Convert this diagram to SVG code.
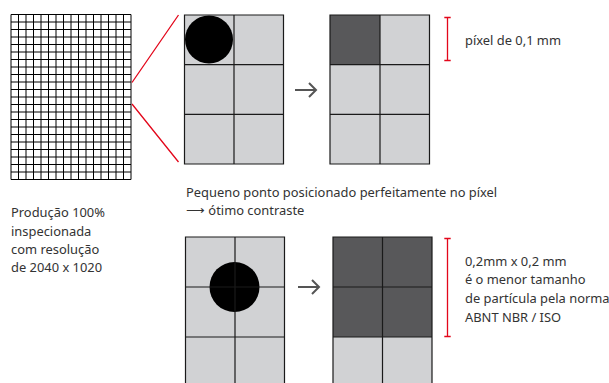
<svg xmlns="http://www.w3.org/2000/svg" width="609" height="383" viewBox="0 0 609 383">
<style>
.t{font-family:"Noto Sans","Open Sans",sans-serif;font-size:12.9px;fill:#333}
.cell{fill:#d1d2d4}
.dark{fill:#58585a}
.gl{stroke:#1a1a1a;stroke-width:1.2;fill:none}
.red{stroke:#e3061a;stroke-width:1.3;fill:none}
.arr{stroke:#555;stroke-width:2;fill:none}
</style>
<rect width="609" height="383" fill="#fff"/>
<g id="sensor-grid">
<path stroke="#000" stroke-width="1" fill="none" d="M11 14.5V179.5M18.5 14.5V179.5M26 14.5V179.5M33.5 14.5V179.5M41 14.5V179.5M48.5 14.5V179.5M56 14.5V179.5M63.5 14.5V179.5M71 14.5V179.5M78.5 14.5V179.5M86 14.5V179.5M93.5 14.5V179.5M101 14.5V179.5M108.5 14.5V179.5M116 14.5V179.5M123.5 14.5V179.5M131 14.5V179.5M11 14.5H131M11 22H131M11 29.5H131M11 37H131M11 44.5H131M11 52H131M11 59.5H131M11 67H131M11 74.5H131M11 82H131M11 89.5H131M11 97H131M11 104.5H131M11 112H131M11 119.5H131M11 127H131M11 134.5H131M11 142H131M11 149.5H131M11 157H131M11 164.5H131M11 172H131M11 179.5H131"/>
</g>
<g id="connectors">
<path class="red" d="M132 82.5L178.5 15M132 104L178.5 162"/>
<path class="arr" d="M295 90H316M309 83L316 90L309 97"/>
<path class="arr" d="M298 287H319M312 280L319 287L312 294"/>
</g>
<g id="block-top-in">
<rect class="cell" x="184.5" y="15" width="99" height="149"/>
<circle cx="209" cy="39.5" r="24" fill="#000"/>
<path class="gl" d="M184.5 15H283.5V164H184.5ZM234 15V164M184.5 64.7H283.5M184.5 114.3H283.5"/>
</g>
<g id="block-top-out">
<rect class="cell" x="330" y="15" width="99.5" height="149"/>
<rect class="dark" x="330" y="15" width="50" height="49.7"/>
<path class="gl" d="M330 15H429.5V164H330ZM380 15V164M330 64.7H429.5M330 114.3H429.5"/>
</g>
<g id="label-pixel">
<path class="red" d="M447.5 17.5V60.5M444.3 17.5H450.7M444.3 60.5H450.7"/>
<text class="t" x="465" y="44.5">píxel de 0,1 mm</text>
</g>
<g id="label-production">
<text class="t" x="11" y="216.5">Produção 100%</text>
<text class="t" x="11" y="235.5">inspecionada</text>
<text class="t" x="11" y="254">com resolução</text>
<text class="t" x="11" y="272">de 2040 x 1020</text>
</g>
<g id="label-middle">
<text class="t" x="186" y="197">Pequeno ponto posicionado perfeitamente no píxel</text>
<text class="t" x="186" y="215">⟶ ótimo contraste</text>
</g>
<g id="block-bottom-in">
<rect class="cell" x="185.5" y="237" width="99" height="150"/>
<circle cx="234.5" cy="287" r="25" fill="#000"/>
<path class="gl" d="M185.5 390V237H284.5V390M235 237V390M185.5 287H284.5M185.5 337H284.5"/>
</g>
<g id="block-bottom-out">
<rect class="cell" x="333" y="237" width="99" height="150"/>
<rect class="dark" x="333" y="237" width="99" height="100"/>
<path class="gl" d="M333 390V237H432V390M382.5 237V390M333 287H432M333 337H432"/>
</g>
<g id="label-particle">
<path class="red" d="M447.5 238.5V336.5M444.3 238.5H450.7M444.3 336.5H450.7"/>
<text class="t" x="465" y="266">0,2mm x 0,2 mm</text>
<text class="t" x="465" y="284">é o menor tamanho</text>
<text class="t" x="465" y="302.5">de partícula pela norma</text>
<text class="t" x="465" y="321.5">ABNT NBR / ISO</text>
</g>
</svg>
